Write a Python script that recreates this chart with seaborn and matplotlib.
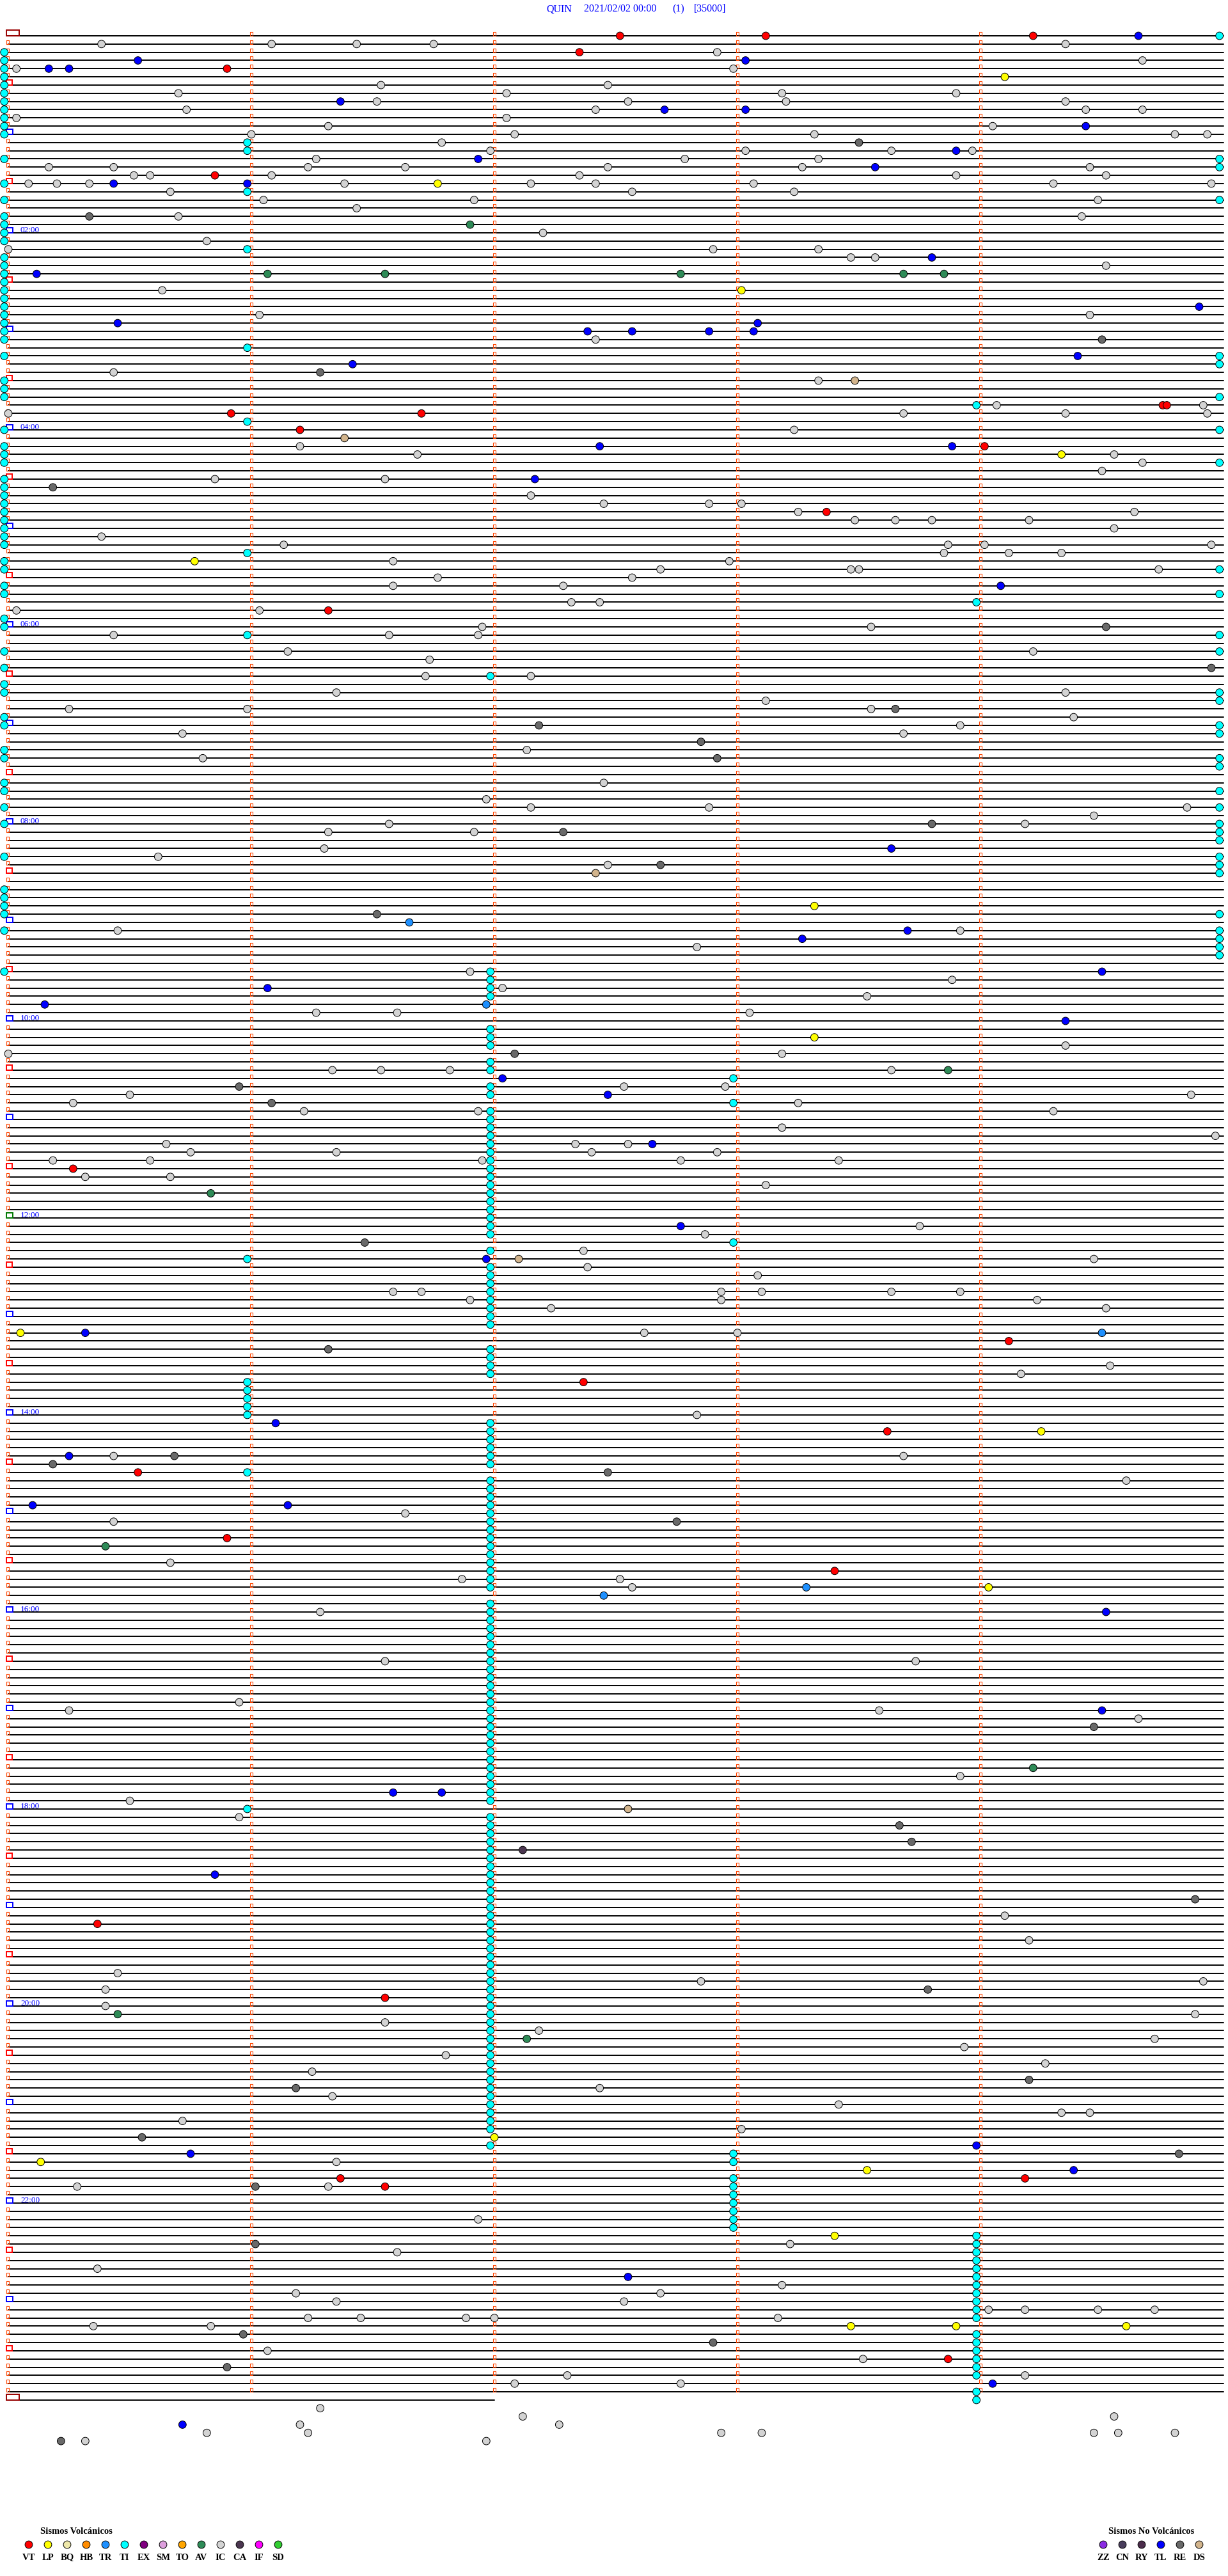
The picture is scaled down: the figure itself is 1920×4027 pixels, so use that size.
#!/usr/bin/env python3
"""
Helicorder QUIN – 2021/02/02
============================
Traza sísmica de 24 h en líneas de 5 minutos con los eventos clasificados
(círculos de colores) y la leyenda de tipos volcánicos / no volcánicos.

Coordenadas de datos: x = minuto dentro de la línea (0–5), y = número de línea.
Los eventos se guardan como (línea, segundo dentro de la línea).
"""

import pandas as pd
import matplotlib
matplotlib.use("Agg")
import matplotlib.pyplot as plt
from matplotlib.patches import Rectangle
from matplotlib.collections import PatchCollection
import seaborn as sns

W, H = 1920, 4027
N_LINES = 289            # 288 líneas de 5 min + la última (sólo 2 min)
LAST_LINE_MIN = 2.0
X0_PX, PX_PER_MIN = 13.0, 380.0
Y0_PX, PX_PER_LINE = 56.0, 12.833

TITLE_PARTS = [("QUIN", 854), ("2021/02/02 00:00", 913), ("(1)", 1051), ("[35000]", 1085)]

# --- eventos: (línea, segundo) ------------------------------------------------
IC = [(1, 23), (1, 65), (1, 86), (1, 105), (1, 261), (2, 175), (3, 280), (4, 2), (4, 179),
      (6, 92), (6, 148), (7, 42), (7, 123), (7, 191), (7, 234), (8, 91), (8, 153), (8, 192),
      (8, 261), (9, 44), (9, 145), (9, 266), (9, 280), (10, 2), (10, 123), (11, 79), (11, 243),
      (12, 60), (12, 125), (12, 199), (12, 288), (12, 296), (13, 107), (14, 119), (14, 182),
      (14, 218), (14, 238), (15, 76), (15, 167), (15, 200), (16, 10), (16, 26), (16, 74),
      (16, 98), (16, 148), (16, 196), (16, 267), (17, 31), (17, 35), (17, 65), (17, 141),
      (17, 234), (17, 271), (18, 5), (18, 12), (18, 20), (18, 83), (18, 129), (18, 145),
      (18, 184), (18, 258), (18, 297), (19, 40), (19, 154), (19, 194), (20, 63), (20, 115),
      (20, 269), (21, 86), (22, 42), (22, 265), (24, 132), (25, 49), (26, 0), (26, 174),
      (26, 200), (27, 208), (27, 214), (28, 271), (31, 38), (34, 62), (34, 267), (37, 145),
      (41, 26), (42, 200), (45, 244), (45, 295), (46, 0), (46, 221), (46, 261), (46, 296),
      (48, 194), (50, 72), (51, 101), (51, 273), (52, 280), (53, 270), (54, 51), (54, 93),
      (56, 129), (57, 147), (57, 173), (57, 181), (58, 195), (58, 278), (59, 209), (59, 219),
      (59, 228), (59, 252), (60, 273), (61, 23), (62, 68), (62, 232), (62, 241), (62, 297),
      (63, 231), (63, 247), (63, 260), (64, 95), (64, 178), (65, 161), (65, 208), (65, 210),
      (65, 284), (66, 106), (66, 154), (67, 95), (67, 137), (69, 139), (69, 146), (70, 2),
      (70, 62), (72, 117), (72, 213), (73, 26), (73, 94), (73, 116), (75, 69), (75, 253),
      (76, 104), (78, 103), (78, 129), (80, 81), (80, 261), (81, 187), (82, 15), (82, 59),
      (82, 213), (83, 263), (84, 235), (85, 43), (85, 221), (87, 128), (88, 48), (91, 147),
      (93, 118), (94, 129), (94, 173), (94, 291), (95, 268), (96, 94), (96, 251), (97, 79),
      (97, 115), (99, 78), (100, 37), (101, 148), (109, 27), (109, 235), (111, 170),
      (114, 114), (115, 233), (116, 122), (117, 212), (119, 76), (119, 96), (119, 183),
      (123, 261), (124, 0), (124, 191), (126, 80), (126, 92), (126, 109), (126, 218),
      (128, 152), (128, 177), (129, 30), (129, 292), (130, 16), (130, 195), (131, 73),
      (131, 116), (131, 258), (133, 191), (134, 298), (135, 39), (135, 140), (135, 153),
      (136, 45), (136, 81), (136, 144), (136, 175), (137, 11), (137, 35), (137, 117),
      (137, 166), (137, 205), (139, 19), (139, 40), (140, 187), (145, 225), (146, 172),
      (148, 142), (149, 268), (150, 143), (151, 185), (153, 95), (153, 102), (153, 176),
      (153, 186), (153, 218), (153, 235), (154, 114), (154, 176), (154, 254), (155, 134),
      (155, 271), (158, 157), (158, 180), (162, 272), (163, 250), (168, 170), (173, 26),
      (173, 221), (176, 276), (180, 98), (181, 26), (186, 40), (188, 112), (188, 151),
      (189, 154), (192, 77), (198, 93), (198, 224), (203, 57), (204, 15), (204, 215),
      (205, 279), (212, 235), (215, 30), (217, 57), (229, 246), (232, 252), (236, 27),
      (237, 171), (237, 295), (238, 24), (240, 24), (241, 293), (242, 93), (243, 131),
      (244, 283), (245, 236), (246, 108), (247, 256), (248, 75), (250, 146), (251, 80),
      (252, 205), (253, 260), (253, 267), (254, 43), (255, 181), (259, 81), (262, 17),
      (262, 79), (266, 116), (269, 193), (270, 96), (272, 22), (274, 191), (275, 71),
      (275, 161), (276, 81), (276, 152), (277, 242), (277, 251), (277, 269), (277, 283),
      (278, 74), (278, 87), (278, 113), (278, 120), (278, 190), (279, 21), (279, 50),
      (282, 64), (283, 211), (285, 138), (285, 251), (286, 125), (286, 166), (289, 77),
      (290, 127), (290, 273), (291, 72), (291, 136), (292, 49), (292, 74), (292, 176),
      (292, 186), (292, 268), (292, 274), (292, 288), (293, 19), (293, 118)]

# TI: líneas donde aparece el tremor en el mismo segundo
TI_SEC_M1 = [2, 3, 4, 5, 6, 7, 8, 9, 10, 11, 12, 15, 18, 20, 22, 23, 24, 25, 27, 28, 29, 30,
             31, 32, 33, 34, 35, 36, 37, 39, 42, 43, 44, 48, 50, 51, 52, 54, 55, 56, 57, 58,
             59, 60, 61, 62, 64, 65, 67, 68, 71, 72, 75, 77, 79, 80, 83, 84, 87, 88, 91, 92,
             94, 96, 100, 104, 105, 106, 107, 109, 114]
TI_SEC_299 = [0, 15, 16, 20, 39, 40, 44, 48, 52, 65, 68, 73, 75, 80, 81, 84, 85, 88, 89, 92,
              94, 96, 97, 98, 100, 101, 102, 107, 109, 110, 111, 112]
TI_SEC_59 = [13, 14, 19, 26, 38, 47, 63, 73, 149, 164, 165, 166, 167, 168, 175, 216]
TI_SEC_119 = [78, 114, 115, 116, 117, 121, 122, 123, 125, 126, 128, 129, 131, 132, 133, 134,
              135, 136, 137, 138, 139, 140, 141, 142, 143, 144, 145, 146, 148, 150, 151, 152,
              153, 154, 155, 156, 157, 160, 161, 162, 163, 169, 170, 171, 172, 173, 174, 176,
              177, 178, 179, 180, 181, 182, 183, 184, 185, 186, 187, 188, 189, 191, 192, 193,
              194, 195, 196, 197, 198, 199, 200, 201, 202, 203, 204, 205, 206, 207, 208, 209,
              210, 211, 212, 213, 214, 215, 217, 218, 219, 220, 221, 222, 223, 224, 225, 226,
              227, 228, 229, 230, 231, 232, 233, 234, 235, 236, 237, 238, 239, 240, 241, 242,
              243, 244, 245, 246, 247, 248, 249, 250, 251, 252, 253, 254, 255, 257]
TI_SEC_179 = [127, 130, 147, 258, 259, 261, 262, 263, 264, 265, 266, 267]
TI_SEC_239 = [45, 69, 268, 269, 270, 271, 272, 273, 274, 275, 276, 277, 278, 280, 281, 282,
              283, 284, 285, 287, 288]

TL = [(0, 279), (3, 32), (3, 182), (4, 10), (4, 15), (8, 82), (9, 162), (9, 182), (11, 266),
      (14, 234), (15, 116), (16, 214), (18, 26), (18, 59), (27, 228), (29, 7), (33, 294),
      (35, 27), (35, 185), (36, 143), (36, 154), (36, 173), (36, 184), (39, 264), (40, 85),
      (50, 146), (50, 233), (54, 130), (67, 245), (99, 218), (109, 222), (110, 196),
      (114, 270), (116, 64), (118, 9), (120, 261), (127, 122), (129, 148), (135, 159),
      (145, 166), (149, 118), (158, 19), (169, 66), (173, 15), (179, 6), (179, 69), (192, 271),
      (204, 270), (214, 95), (214, 107), (224, 51), (257, 239), (258, 45), (260, 263),
      (273, 153), (286, 243), (291, 43)]
VT = [(0, 151), (0, 187), (0, 253), (2, 141), (4, 54), (17, 51), (45, 285), (45, 286),
      (46, 55), (46, 102), (48, 72), (50, 241), (58, 202), (70, 79), (138, 16), (159, 247),
      (164, 142), (170, 217), (175, 32), (183, 54), (187, 204), (230, 22), (239, 93),
      (261, 82), (261, 251), (262, 93), (283, 232)]
LP = [(5, 246), (18, 106), (31, 181), (51, 260), (64, 46), (106, 199), (122, 199), (158, 3),
      (170, 255), (189, 242), (256, 120), (259, 8), (260, 212), (268, 204), (279, 208),
      (279, 234), (279, 276)]
RE = [(13, 210), (22, 20), (37, 270), (41, 77), (55, 11), (72, 271), (77, 297), (82, 219),
      (84, 131), (86, 171), (88, 175), (96, 228), (97, 137), (101, 161), (107, 91), (124, 125),
      (128, 57), (130, 65), (147, 88), (160, 79), (173, 41), (174, 11), (175, 148), (181, 165),
      (206, 268), (218, 220), (220, 223), (227, 293), (238, 227), (249, 252), (250, 71),
      (256, 33), (258, 289), (262, 61), (269, 61), (280, 58), (281, 174), (284, 54), (293, 13)]
AV = [(23, 114), (29, 64), (29, 93), (29, 166), (29, 221), (29, 231), (126, 232), (141, 50),
      (184, 24), (211, 253), (241, 27), (244, 128)]
TR = [(108, 99), (118, 118), (158, 270), (189, 197), (190, 147)]
DS = [(42, 209), (49, 83), (102, 145), (149, 126), (216, 153)]
CA = [(221, 127)]

# --- leyenda -----------------------------------------------------------------
VOLC_CODES = ["VT", "LP", "BQ", "HB", "TR", "TI", "EX", "SM", "TO", "AV", "IC", "CA", "IF", "SD"]
VOLC_COLORS = ["#ff0000", "#ffff00", "#eee8aa", "#ff8c00", "#1e90ff", "#00ffff", "#800080",
               "#dda0dd", "#ffa500", "#2e8b57", "#d3d3d3", "#4b3650", "#ff00ff", "#32cd32"]
NOVOLC_CODES = ["ZZ", "CN", "RY", "TL", "RE", "DS"]
NOVOLC_COLORS = ["#8a2be2", "#483d5b", "#4b2c4b", "#0000ff", "#696969", "#d2b48c"]


def px2x(px):
    return (px - X0_PX) / PX_PER_MIN


def px2y(py):
    return (py - Y0_PX) / PX_PER_LINE


def events_frame() -> pd.DataFrame:
    ti = ([(l, -1) for l in TI_SEC_M1] + [(l, 299) for l in TI_SEC_299]
          + [(l, 59) for l in TI_SEC_59] + [(l, 119) for l in TI_SEC_119]
          + [(l, 179) for l in TI_SEC_179] + [(l, 239) for l in TI_SEC_239])
    frames = []
    for code, ev in [("IC", IC), ("TI", ti), ("TL", TL), ("VT", VT), ("LP", LP),
                     ("RE", RE), ("AV", AV), ("TR", TR), ("DS", DS), ("CA", CA)]:
        df = pd.DataFrame(ev, columns=["line", "sec"])
        df["tipo"] = code
        frames.append(df)
    df = pd.concat(frames, ignore_index=True)
    df["minute"] = df["sec"] / 60.0
    return df


def marker_patches():
    """Marcas de minuto (naranja) y cajas de hora al inicio de cada línea."""
    small, boxes = [], []
    w_s, h_s = 4 / PX_PER_MIN, 6 / PX_PER_LINE
    for i in range(N_LINES):
        end = 5 if i < N_LINES - 1 else 0
        for m in range(1, end):
            small.append(Rectangle((m - 2 / PX_PER_MIN, i - h_s), w_s, h_s))
        h_b = 8 / PX_PER_LINE
        x_b = -3 / PX_PER_MIN
        if i in (0, N_LINES - 1):
            boxes.append((Rectangle((x_b, i - 9 / PX_PER_LINE), 20 / PX_PER_MIN,
                                    9 / PX_PER_LINE), "#990000"))
        elif i == 144:
            boxes.append((Rectangle((x_b, i - h_b), 10 / PX_PER_MIN, h_b), "#007700"))
        elif i % 12 == 0:
            boxes.append((Rectangle((x_b, i - h_b), 10 / PX_PER_MIN, h_b), "#0000ff"))
        elif i % 12 == 6:
            boxes.append((Rectangle((x_b, i - h_b), 9 / PX_PER_MIN, h_b), "#ff0000"))
        else:
            small.append(Rectangle((x_b, i - h_s), w_s, h_s))
    return small, boxes


def main() -> None:
    sns.set_theme(style="white")
    plt.rcParams["font.family"] = ["Liberation Serif", "DejaVu Serif"]

    fig = plt.figure(figsize=(W / 100, H / 100), dpi=100)
    ax = fig.add_axes([0, 0, 1, 1])

    # trazas (planas)
    rows = []
    for i in range(N_LINES):
        end = 5.0 if i < N_LINES - 1 else LAST_LINE_MIN
        rows += [(i, 0.0), (i, end)]
    tr = pd.DataFrame(rows, columns=["line", "minute"])
    tr["traza"] = tr["line"]
    sns.lineplot(data=tr, x="minute", y="line", units="traza", estimator=None,
                 color="black", lw=1.4, ax=ax, legend=False)

    small, boxes = marker_patches()
    ax.add_collection(PatchCollection(small, facecolor="none", edgecolor="#ff4500",
                                      linewidth=0.8, zorder=2))
    for rect, col in boxes:
        rect.set(facecolor="none", edgecolor=col, linewidth=1.4, zorder=2)
        ax.add_patch(rect)

    # etiquetas horarias cada 2 h
    for i in range(24, N_LINES - 1, 24):
        ax.text(px2x(32), i - 0.05, f"{i // 12:02d}:00", color="#0000ff",
                fontsize=9.5, va="baseline", ha="left", zorder=3)

    ev = events_frame()
    palette = dict(zip(VOLC_CODES + NOVOLC_CODES, VOLC_COLORS + NOVOLC_COLORS))
    sns.scatterplot(data=ev, x="minute", y="line", hue="tipo", palette=palette, s=72,
                    edgecolor="black", linewidth=0.7, legend=False, ax=ax, zorder=4)

    # título
    for txt, xpx in TITLE_PARTS:
        ax.text(px2x(xpx), px2y(14), txt, color="#0000ff", fontsize=11.5,
                ha="left", va="center")

    # leyendas inferiores
    leg = pd.DataFrame({
        "code": VOLC_CODES + NOVOLC_CODES,
        "xpx": [45 + 30 * k for k in range(len(VOLC_CODES))]
               + [1725 + 30 * k for k in range(len(NOVOLC_CODES))],
    })
    leg["x"] = px2x(leg["xpx"])
    leg["y"] = px2y(3978)
    sns.scatterplot(data=leg, x="x", y="y", hue="code", palette=palette, s=72,
                    edgecolor="black", linewidth=0.7, legend=False, ax=ax, zorder=4)
    for code, x in zip(leg["code"], leg["x"]):
        ax.text(x, px2y(3998), code, ha="center", va="center", fontsize=10.5,
                fontweight="bold", color="black")
    ax.text(px2x(63), px2y(3957), "Sismos Volcánicos", ha="left", va="center",
            fontsize=10.5, fontweight="bold", color="black")
    ax.text(px2x(1733), px2y(3957), "Sismos No Volcánicos", ha="left", va="center",
            fontsize=10.5, fontweight="bold", color="black")

    ax.set_xlim(px2x(0), px2x(W))
    ax.set_ylim(px2y(H), px2y(0))
    ax.axis("off")
    fig.savefig("out.png", dpi=100, facecolor="white")
    plt.close(fig)


if __name__ == "__main__":
    main()
